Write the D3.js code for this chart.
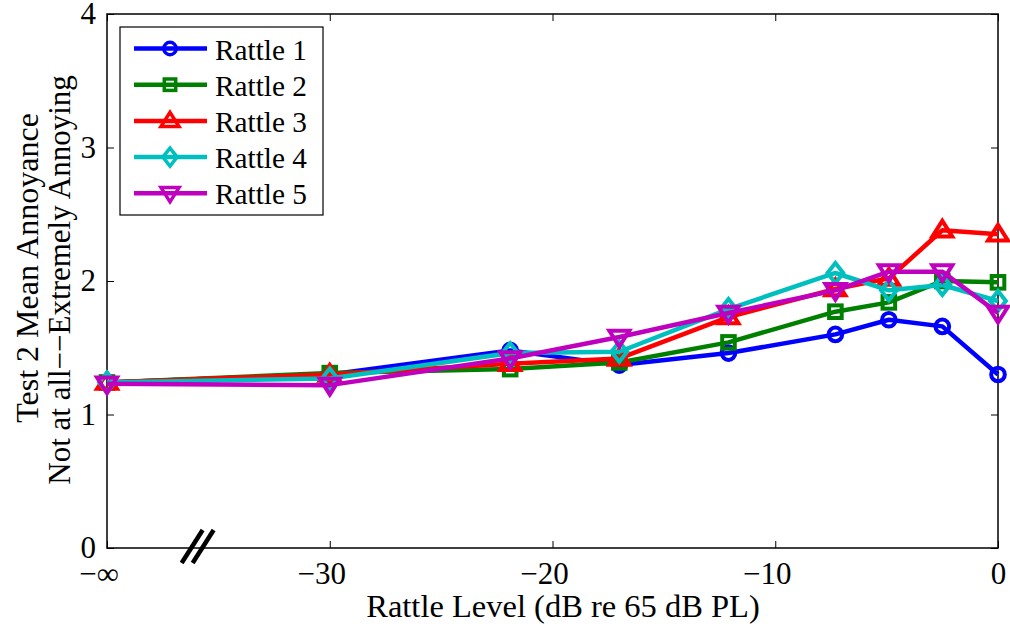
<!DOCTYPE html>
<html><head><meta charset="utf-8">
<script src="https://cdn.jsdelivr.net/npm/d3@7"></script>
<style>body{margin:0;background:#fff}svg{display:block}</style>
</head><body>
<svg id="c" width="1010" height="627"></svg>
<script>
const levels = [-40, -30, -21.9, -17, -12.1, -7.3, -4.9, -2.5, 0];
const seriesNames = ["Rattle 1","Rattle 2","Rattle 3","Rattle 4","Rattle 5"];
const rattle1 = [1.24, 1.30, 1.48, 1.37, 1.46, 1.60, 1.71, 1.66, 1.30];
const rattle2 = [1.24, 1.31, 1.34, 1.39, 1.54, 1.77, 1.84, 2.00, 1.99];
const rattle3 = [1.24, 1.30, 1.38, 1.42, 1.73, 1.94, 2.02, 2.38, 2.35];
const rattle4 = [1.24, 1.27, 1.46, 1.47, 1.79, 2.06, 1.93, 1.97, 1.85];
const rattle5 = [1.23, 1.22, 1.42, 1.58, 1.76, 1.93, 2.07, 2.07, 1.76];
const colors = ["#0000ff","#008000","#ff0000","#00bfbf","#bf00bf"];
const shapes = ["circle","square","triangle","diamond","tri-down"];
const xTicks = [-40, -30, -20, -10, 0];
const xTickLabels = ["\u2212\u221e","\u221230","\u221220","\u221210","0"];
const yTicks = [0,1,2,3,4];

const FF = "'Liberation Serif','Times New Roman',Times,serif";
const svg = d3.select("#c");
const L=107, R=998, T=14, B=548;
const x = d3.scaleLinear().domain([-40,0]).range([L,R]);
const y = d3.scaleLinear().domain([0,4]).range([B,T]);
const all = [rattle1,rattle2,rattle3,rattle4,rattle5];

svg.append("rect").attr("x",L).attr("y",T).attr("width",R-L).attr("height",B-T)
  .attr("fill","none").attr("stroke","#000").attr("stroke-width",1.5);

const fs = 31;
const ax = svg.append("g").attr("transform",`translate(0,${B})`)
  .call(d3.axisBottom(x).tickValues(xTicks).tickFormat((d,i)=>xTickLabels[i]).tickSizeInner(-7).tickSizeOuter(0).tickPadding(14));
ax.attr("font-family",FF);
ax.select(".domain").remove();
ax.selectAll("text").attr("font-size",fs).attr("fill","#000").attr("y",36).attr("dy",null)
  .attr("dx",(d,i)=>xTickLabels[i].startsWith("\u2212") ? -8.5 : 0);
ax.selectAll("line").attr("stroke","#000");
const axT = svg.append("g").attr("transform",`translate(0,${T})`)
  .call(d3.axisTop(x).tickValues(xTicks).tickFormat("").tickSizeInner(-7).tickSizeOuter(0));
axT.select(".domain").remove();
const ay = svg.append("g").attr("transform",`translate(${L},0)`)
  .call(d3.axisLeft(y).tickValues(yTicks).tickFormat(d3.format("d")).tickSizeInner(-7).tickSizeOuter(0).tickPadding(11));
ay.attr("font-family",FF);
ay.select(".domain").remove();
ay.selectAll("text").attr("font-size",fs).attr("fill","#000");
const ayR = svg.append("g").attr("transform",`translate(${R},0)`)
  .call(d3.axisRight(y).tickValues(yTicks).tickFormat("").tickSizeInner(-7).tickSizeOuter(0));
ayR.select(".domain").remove();

// axis break mark
const bx = x(-36.2);
[0,11].forEach(o=>{
  svg.append("line").attr("x1",bx-10+o).attr("y1",B+15).attr("x2",bx+11+o).attr("y2",B-18)
    .attr("stroke","#000").attr("stroke-width",4.5);
});

svg.append("text").attr("x",563).attr("y",617).attr("text-anchor","middle").attr("font-family",FF).attr("font-size",32.5).text("Rattle Level (dB re 65 dB PL)");
svg.append("text").attr("transform","translate(38,268) rotate(-90)").attr("text-anchor","middle").attr("font-family",FF).attr("font-size",32).text("Test 2 Mean Annoyance");
svg.append("text").attr("transform","translate(70,280) rotate(-90)").attr("text-anchor","middle").attr("font-family",FF).attr("font-size",31).text("Not at all\u2212\u2212Extremely Annoying");

function marker(g, shape, color, cx, cy, s, sw){
  if(shape==="circle") g.append("circle").attr("cx",cx).attr("cy",cy).attr("r",6.5*s).attr("fill","none").attr("stroke",color).attr("stroke-width",sw);
  else if(shape==="square") g.append("rect").attr("x",cx-6*s).attr("y",cy-6*s).attr("width",12*s).attr("height",12*s).attr("fill","none").attr("stroke",color).attr("stroke-width",sw);
  else if(shape==="triangle") g.append("path").attr("d",`M${cx},${cy-9*s}L${cx+9.5*s},${cy+6*s}L${cx-9.5*s},${cy+6*s}Z`).attr("fill","none").attr("stroke",color).attr("stroke-width",sw);
  else if(shape==="diamond") g.append("path").attr("d",`M${cx},${cy-9.5*s}L${cx+7.5*s},${cy}L${cx},${cy+9.5*s}L${cx-7.5*s},${cy}Z`).attr("fill","none").attr("stroke",color).attr("stroke-width",sw);
  else g.append("path").attr("d",`M${cx},${cy+9*s}L${cx+9.5*s},${cy-6*s}L${cx-9.5*s},${cy-6*s}Z`).attr("fill","none").attr("stroke",color).attr("stroke-width",sw);
}

const line = d3.line().x((d,i)=>x(levels[i])).y(d=>y(d));
all.forEach((s,k)=>{
  const g = svg.append("g");
  g.append("path").datum(s).attr("d",line).attr("fill","none").attr("stroke",colors[k]).attr("stroke-width",4.5).attr("stroke-linejoin","round");
  s.forEach((v,i)=>marker(g, shapes[k], colors[k], x(levels[i]), y(v), 1.05, 4));
});

const lg = svg.append("g");
lg.append("rect").attr("x",120).attr("y",27).attr("width",203).attr("height",188).attr("fill","#fff").attr("stroke","#000").attr("stroke-width",1.2);
seriesNames.forEach((n,k)=>{
  const yy = 48.5 + k*36.2;
  lg.append("line").attr("x1",134).attr("x2",207).attr("y1",yy).attr("y2",yy).attr("stroke",colors[k]).attr("stroke-width",4.5);
  marker(lg, shapes[k], colors[k], 170, yy, 0.95, 3.5);
  lg.append("text").attr("x",215).attr("y",yy+11).attr("font-family",FF).attr("font-size",29.3).text(n);
});
</script>
</body></html>
